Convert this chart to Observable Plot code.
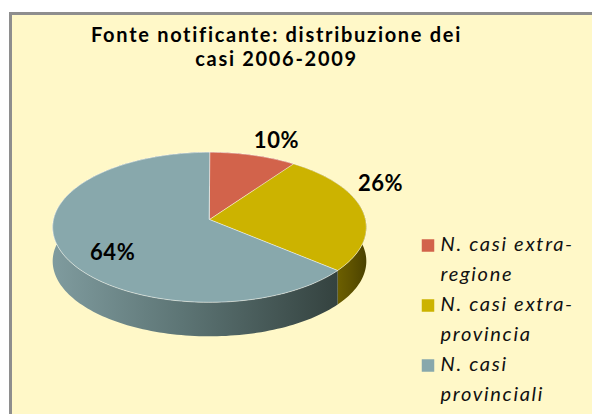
<!DOCTYPE html>
<html><head><meta charset="utf-8">
<script src="https://cdn.jsdelivr.net/npm/d3@7"></script>
<script src="https://cdn.jsdelivr.net/npm/@observablehq/plot@0.6"></script>
<style>
html,body{margin:0;padding:0;background:#fff;width:592px;height:414px;overflow:hidden;}
#frame{position:absolute;left:9px;top:12px;width:600px;height:420px;background:#FFF8C8;border-left:3px solid #8e8e8e;border-top:3px solid #8e8e8e;}
#chart{position:absolute;left:0;top:0;}
</style></head><body><div id="frame"></div><div id="chart"></div>
<script>
// ---- data ----
const categories = ["N. casi extra-regione", "N. casi extra-provincia", "N. casi provinciali"];
const values = [10, 26, 64];
const valueLabels = ["10%", "26%", "64%"];
const legendLines = [["N. casi extra-", "regione"], ["N. casi extra-", "provincia"], ["N. casi", "provinciali"]];
const titleLines = ["Fonte notificante: distribuzione dei", "casi 2006-2009"];

// ---- styles / layout ----
const topColors = ["#D2634B", "#CCB300", "#88A8AC"];
const sideFills = ["#9a4030", "url(#gYellow)", "url(#gBlue)"];
const W = 592, H = 414;
const FONT = "Lato, 'Open Sans', sans-serif";
const G = {cx: 209, cy: 219, rx: 156, ry: 75, k: 0.104, depth: 34};
const labelOffsets = [[23.6, -14.7], [18.3, -26.7], [2, 10.6]];
const labelRadius = [1, 1, 0.68];
const L = {sx: 428, sw: 12.5, tx: 440, y0: 244.5, row: 60, line: 29.5};

function P(theta, r = 1) {
  const u = Math.sin(theta), v = -Math.cos(theta);
  const s = 1 + G.k * r * v;
  return [G.cx + G.rx * r * u * s, G.cy + G.ry * r * v * s];
}
const total = d3.sum(values);
let acc = 0;
const slices = values.map((v, i) => {
  const a0 = acc / total * 2 * Math.PI; acc += v;
  const a1 = acc / total * 2 * Math.PI;
  return {i, a0, a1, mid: (a0 + a1) / 2};
});
function arc(a0, a1) {
  const n = Math.max(2, Math.ceil((a1 - a0) / (Math.PI / 120)));
  return d3.range(n + 1).map(j => P(a0 + (a1 - a0) * j / n));
}
const apex = P(0, 0);
const tops = slices.map(s => [apex, ...arc(s.a0, s.a1)]);
const sides = slices.map(s => {
  const a = arc(s.a0, s.a1);
  return [...a, ...a.slice().reverse().map(([x, y]) => [x, y + G.depth])];
});

const defsMark = (index, scales) => {
  const ns = "http://www.w3.org/2000/svg";
  const defs = document.createElementNS(ns, "defs");
  const mk = (id, x1, x2, stops) => {
    const g = document.createElementNS(ns, "linearGradient");
    g.setAttribute("id", id); g.setAttribute("gradientUnits", "userSpaceOnUse");
    g.setAttribute("x1", x1); g.setAttribute("x2", x2); g.setAttribute("y1", 0); g.setAttribute("y2", 0);
    for (const [o, c] of stops) {
      const st = document.createElementNS(ns, "stop");
      st.setAttribute("offset", o); st.setAttribute("stop-color", c); g.appendChild(st);
    }
    defs.appendChild(g);
  };
  const xl = scales.x(G.cx - G.rx), xr = scales.x(G.cx + G.rx);
  const yb = P(slices[1].a1)[0];
  mk("gBlue", xl, scales.x(yb), [[0, "#7f9b9e"], [0.45, "#5d7575"], [1, "#34423f"]]);
  mk("gYellow", scales.x(yb), xr, [[0, "#6c5f00"], [0.5, "#5e5200"], [1, "#4c4300"]]);
  return defs;
};

const marks = [defsMark];
sides.forEach((pts, i) => marks.push(Plot.line(pts, {x: d => d[0], y: d => d[1], curve: "linear-closed", fill: sideFills[i], stroke: "none"})));
tops.forEach((pts, i) => marks.push(Plot.line(pts, {x: d => d[0], y: d => d[1], curve: "linear-closed", fill: topColors[i], stroke: "#ffffff", strokeOpacity: 0.5, strokeWidth: 1})));

// value labels
const labelData = slices.map(s => {
  const [x, y] = P(s.mid, labelRadius[s.i]);
  return {x: x + labelOffsets[s.i][0], y: y + labelOffsets[s.i][1], t: valueLabels[s.i]};
});
marks.push(Plot.text(labelData, {x: "x", y: "y", text: "t", fontSize: 22, fontWeight: "bold", fontFamily: FONT, fill: "#000"}));

// title (one multi-line text)
marks.push(Plot.text([titleLines.join("\n")], {x: () => 276, y: () => 46, text: d => d, lineHeight: 1.2, fontSize: 20, fontWeight: "bold", fontFamily: FONT, fill: "#000"}));

// legend
const legendRows = categories.map((c, i) => ({c, i}));
marks.push(Plot.rect(legendRows, {x1: d => L.sx - L.sw / 2, x2: d => L.sx + L.sw / 2, y1: d => L.y0 + d.i * L.row - L.sw / 2 + 1, y2: d => L.y0 + d.i * L.row + L.sw / 2 + 1, fill: d => topColors[d.i]}));
const legendText = legendLines.flatMap((ls, i) => ls.map((t, j) => ({t, i, j})));
marks.push(Plot.text(legendText, {x: () => L.tx, y: d => L.y0 + d.i * L.row + d.j * L.line, text: "t", textAnchor: "start", fontSize: 20, fontStyle: "italic", fontFamily: FONT, fill: "#111"}));

const chart = Plot.plot({
  width: W, height: H, margin: 0,
  x: {domain: [0, W], range: [0, W], axis: null},
  y: {domain: [0, H], range: [0, H], axis: null},
  style: {background: "transparent", overflow: "visible"},
  marks
});
const legendSet = new Set(legendLines.flat());
d3.select(chart).selectAll("text").each(function () {
  const t = this.textContent;
  if (titleLines.some(l => t.includes(l))) this.style.letterSpacing = "1.7px";
  else if (legendSet.has(t)) this.style.letterSpacing = "1.7px";
  else if (valueLabels.includes(t)) this.style.letterSpacing = "0.6px";
});
document.getElementById("chart").appendChild(chart);
</script></body></html>
